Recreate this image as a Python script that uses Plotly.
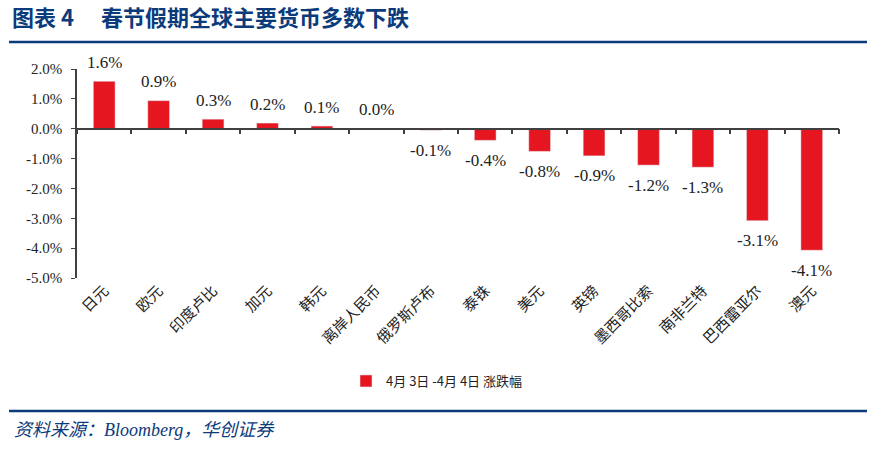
import plotly.graph_objects as go

categories = ["日元", "欧元", "印度卢比", "加元", "韩元", "离岸人民币", "俄罗斯卢布",
              "泰铢", "美元", "英镑", "墨西哥比索", "南非兰特", "巴西雷亚尔", "澳元"]
values = [1.59, 0.94, 0.32, 0.19, 0.09, 0.01, -0.05,
          -0.39, -0.76, -0.91, -1.22, -1.29, -3.08, -4.07]
labels = ["1.6%", "0.9%", "0.3%", "0.2%", "0.1%", "0.0%", "-0.1%",
          "-0.4%", "-0.8%", "-0.9%", "-1.2%", "-1.3%", "-3.1%", "-4.1%"]
series_name = "4月 3日 -4月 4日 涨跌幅"
y_ticks = [2, 1, 0, -1, -2, -3, -4, -5]
y_ticktext = ["2.0%", "1.0%", "0.0%", "-1.0%", "-2.0%", "-3.0%", "-4.0%", "-5.0%"]

RED = "#E5161F"
NAVY = "#0B3B7A"
AXIS = "#404040"
SERIF = "Liberation Serif, Times New Roman, serif"
CJK = "Noto Sans CJK SC"

fig = go.Figure()
fig.add_trace(go.Bar(x=categories, y=values, name=series_name, marker_color=RED,
                     width=0.4, hoverinfo="skip"))
# helper trace so the zero-line axis knows the categories
fig.add_trace(go.Scatter(x=categories, y=values, xaxis="x2", mode="markers",
                         marker=dict(opacity=0), showlegend=False, hoverinfo="skip"))

for c, v, t in zip(categories, values, labels):
    fig.add_annotation(x=c, y=v, text=t, showarrow=False, xref="x", yref="y",
                       yanchor="middle", yshift=19 if v >= 0 else -20,
                       font=dict(family=SERIF, size=17, color="#222"))

W, H = 885, 451
L, R, T, B = 77, 46, 69, 173
pw, ph = W - L - R, H - T - B

def px(xp):
    return (xp - L) / pw

def py(yp):
    return (H - B - yp) / ph

fig.update_layout(
    width=W, height=H,
    margin=dict(l=L, r=R, t=T, b=B),
    paper_bgcolor="white", plot_bgcolor="white",
    title=dict(text="<b>图表 4　 春节假期全球主要货币多数下跌</b>",
               font=dict(family=CJK, size=22, color=NAVY),
               xref="container", yref="container", x=12 / W, y=1 - 18 / H,
               xanchor="left", yanchor="middle"),
    xaxis=dict(type="category", categoryorder="array", categoryarray=categories,
               range=[-0.5, len(categories) - 0.5], showline=False, ticks="",
               showgrid=False, tickangle=-45,
               tickfont=dict(family=CJK, size=15, color="#222")),
    xaxis2=dict(type="category", categoryorder="array", categoryarray=categories,
                range=[-0.5, len(categories) - 0.5], overlaying="x", anchor="free",
                position=5 / 7, showticklabels=False, showline=True,
                linecolor=AXIS, linewidth=1.5, ticks="outside", tickson="boundaries",
                ticklen=5, tickcolor=AXIS, tickwidth=1.5, showgrid=False),
    yaxis=dict(range=[-5, 2], tickvals=y_ticks, ticktext=y_ticktext,
               showline=True, linecolor=AXIS, linewidth=1.5, ticks="outside",
               ticklen=4, tickcolor=AXIS, showgrid=False, zeroline=False,
               ticklabelstandoff=6,
               tickfont=dict(family=SERIF, size=15, color="#222")),
    showlegend=True,
    legend=dict(orientation="h", x=px(437), y=py(381), xanchor="center",
                yanchor="middle", font=dict(family=CJK, size=13, color="#222"),
                itemwidth=30, bgcolor="rgba(0,0,0,0)"),
    bargap=0.6,
)

fig.add_shape(type="line", xref="paper", yref="paper", x0=px(9), x1=px(867),
              y0=py(42), y1=py(42), line=dict(color=NAVY, width=2.5))
fig.add_shape(type="line", xref="paper", yref="paper", x0=px(9), x1=px(867),
              y0=py(411), y1=py(411), line=dict(color=NAVY, width=2.5))

fig.add_annotation(xref="paper", yref="paper", x=px(12), y=py(430),
                   xanchor="left", yanchor="middle", showarrow=False,
                   text="<i>资料来源：Bloomberg，华创证券</i>",
                   font=dict(family="Liberation Serif, " + CJK, size=18, color=NAVY))

fig.write_html("out.html", config={"displayModeBar": False},
               post_script="document.body.style.margin='0';")
